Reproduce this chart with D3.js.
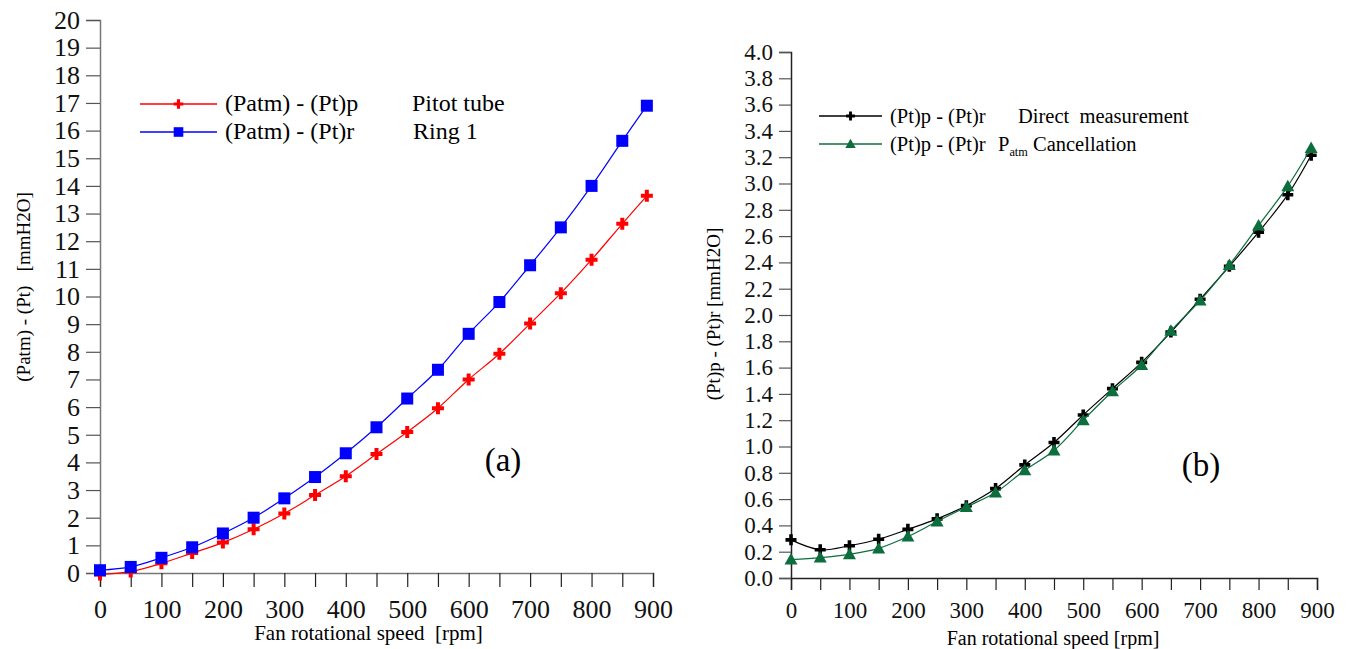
<!DOCTYPE html>
<html>
<head>
<meta charset="utf-8">
<script src="https://cdn.jsdelivr.net/npm/d3@7"></script>
<style>
  body { margin: 0; background: #fff; }
</style>
</head>
<body>
<svg id="chart" width="1351" height="649"></svg>
<script>
var serif = "'Liberation Serif', 'Times New Roman', Times, 'DejaVu Serif', serif";

// fan speed, rpm
var speeds = [0, 50, 100, 150, 200, 250, 300, 350, 400, 450, 500, 550, 600, 650, 700, 750, 800, 850, 890];

// (a) Patm - Pt, mmH2O
var pitot = [-0.05, 0.05, 0.35, 0.72, 1.1, 1.58, 2.15, 2.82, 3.5, 4.3, 5.1, 5.96, 7.0, 7.93, 9.02, 10.12, 11.33, 12.63, 13.64];
var ring1 = [0.1, 0.22, 0.55, 0.93, 1.43, 2.0, 2.7, 3.47, 4.33, 5.27, 6.31, 7.35, 8.65, 9.8, 11.13, 12.5, 14.0, 15.63, 16.9];

// (b) Pt,p - Pt,r, mmH2O
var direct = [0.29, 0.215, 0.245, 0.295, 0.37, 0.45, 0.55, 0.68, 0.86, 1.03, 1.24, 1.44, 1.64, 1.87, 2.12, 2.37, 2.63, 2.915, 3.215];
var cancel = [0.14, 0.155, 0.18, 0.225, 0.315, 0.43, 0.54, 0.65, 0.82, 0.97, 1.2, 1.42, 1.62, 1.88, 2.11, 2.38, 2.68, 2.98, 3.27];

var xTicks = [0, 100, 200, 300, 400, 500, 600, 700, 800, 900];
var xMinor = [0, 50, 100, 150, 200, 250, 300, 350, 400, 450, 500, 550, 600, 650, 700, 750, 800, 850, 900];
var yTicksA = d3.range(0, 21, 1);
var yTicksB = d3.range(0, 4.01, 0.2);

var svg = d3.select("#chart");

function plusPath(s, w) {
  return "M" + (-w) + "," + (-s) + "H" + w + "V" + (-w) + "H" + s + "V" + w + "H" + w + "V" + s +
         "H" + (-w) + "V" + w + "H" + (-s) + "V" + (-w) + "H" + (-w) + "Z";
}

function drawMarker(g, kind, color) {
  if (kind == "plus") {
    g.append("path").attr("d", plusPath(6, 2)).attr("fill", color);
  } else if (kind == "plusSmall") {
    g.append("path").attr("d", plusPath(5.5, 1.8)).attr("fill", color);
  } else if (kind == "square") {
    g.append("rect").attr("x", -6).attr("y", -6).attr("width", 12).attr("height", 12).attr("fill", color);
  } else {
    g.append("path").attr("d", "M0,-6.5L6.5,5L-6.5,5Z").attr("fill", color);
  }
}

function panel(opt) {
  var x = d3.scaleLinear().domain([0, 900]).range([opt.left, opt.right]);
  var y = d3.scaleLinear().domain(opt.yDomain).range([opt.bottom, opt.top]);
  var g = svg.append("g");

  // x axis with ticks every 50
  var xa = g.append("g")
    .attr("transform", "translate(0," + opt.bottom + ")")
    .call(d3.axisBottom(x).tickValues(xMinor).tickSize(opt.tick).tickPadding(6)
      .tickFormat(function(d) { return xTicks.indexOf(d) >= 0 ? d : ""; }));
  xa.attr("font-family", serif);
  xa.select(".domain").attr("stroke", opt.axisColor).attr("stroke-width", 1.5);
  xa.selectAll(".tick line").attr("stroke", "#222").attr("stroke-width", 1.2);
  xa.selectAll("text").style("font-family", serif).style("font-size", opt.tickFont + "px").attr("fill", "#111").attr("dy", "0.95em");

  var ya = g.append("g")
    .attr("transform", "translate(" + opt.left + ",0)")
    .call(d3.axisLeft(y).tickValues(opt.yTicks).tickSize(opt.tick).tickPadding(6).tickFormat(opt.yFormat));
  ya.attr("font-family", serif);
  ya.select(".domain").attr("stroke", opt.axisColor).attr("stroke-width", 1.5);
  ya.selectAll(".tick line").attr("stroke", "#555").attr("stroke-width", 1.2);
  ya.selectAll("text").style("font-family", serif).style("font-size", opt.tickFont + "px").attr("fill", "#111");

  g.append("text")
    .attr("x", (opt.left + opt.right) / 2 + opt.xTitleShift).attr("y", opt.bottom + 67)
    .attr("text-anchor", "middle").style("font-family", serif).style("font-size", opt.titleFont + "px")
    .style("white-space", "pre").text(opt.xTitle);

  g.append("text")
    .attr("transform", "translate(" + opt.yTitleX + "," + opt.yTitleY + ") rotate(-90)")
    .attr("text-anchor", "middle").style("font-family", serif).style("font-size", opt.yTitleFont + "px")
    .style("white-space", "pre").text(opt.yTitle);

  var line = d3.line()
    .x(function(d) { return x(d[0]); })
    .y(function(d) { return y(d[1]); })
    .curve(d3.curveCatmullRom);

  opt.series.forEach(function(s) {
    var pts = speeds.map(function(v, i) { return [v, s.values[i]]; });
    g.append("path").datum(pts)
      .attr("d", line).attr("fill", "none")
      .attr("stroke", s.color).attr("stroke-width", 1.2);
    pts.forEach(function(p) {
      var m = g.append("g").attr("transform", "translate(" + x(p[0]) + "," + y(p[1]) + ")");
      drawMarker(m, s.marker, s.color);
    });
  });

  // legend
  opt.series.forEach(function(s, i) {
    var ly = opt.legendY + i * opt.legendGap;
    g.append("line").attr("x1", opt.legendX).attr("x2", opt.legendX + opt.legendLen)
      .attr("y1", ly).attr("y2", ly).attr("stroke", s.color).attr("stroke-width", 1.3);
    var m = g.append("g").attr("transform", "translate(" + (opt.legendX + opt.legendLen / 2) + "," + ly + ") scale(0.8)");
    drawMarker(m, s.marker, s.color);
    g.append("text").attr("x", opt.legendX + opt.legendLen + 8).attr("y", ly + 7)
      .style("font-family", serif).style("font-size", opt.legendFont + "px").text(s.label);
    var t = g.append("text").attr("x", s.noteX).attr("y", ly + 7)
      .style("font-family", serif).style("font-size", opt.legendFont + "px").style("white-space", "pre");
    if (s.sub) {
      t.append("tspan").text("P");
      t.append("tspan").attr("dy", 5).style("font-size", (opt.legendFont * 0.6) + "px").text("atm");
      t.append("tspan").attr("dy", -5).text(" " + s.note);
    } else {
      t.text(s.note);
    }
  });

  g.append("text").attr("x", opt.tagX).attr("y", opt.tagY)
    .attr("text-anchor", "middle").style("font-family", serif).style("font-size", "33px").text(opt.tag);
}

panel({
  left: 100, right: 653, top: 20, bottom: 573,
  yDomain: [0, 20], yTicks: yTicksA, yFormat: d3.format("d"),
  tick: 14, tickFont: 26, titleFont: 21, yTitleFont: 19, axisColor: "#777",
  xTitle: "Fan rotational speed  [rpm]", xTitleShift: -8,
  yTitle: "(Patm) - (Pt)   [mmH2O]", yTitleX: 30, yTitleY: 287,
  legendX: 140, legendLen: 77, legendY: 104, legendGap: 28, legendFont: 24,
  tag: "(a)", tagX: 503, tagY: 471,
  series: [
    { values: pitot, color: "#ff0000", marker: "plus", label: "(Patm) - (Pt)p", note: "Pitot tube", noteX: 412 },
    { values: ring1, color: "#0000ff", marker: "square", label: "(Patm) - (Pt)r", note: "Ring 1", noteX: 413 }
  ]
});

panel({
  left: 791, right: 1317, top: 52, bottom: 578,
  yDomain: [0, 4], yTicks: yTicksB, yFormat: d3.format(".1f"),
  tick: 12, tickFont: 23, titleFont: 20, yTitleFont: 19, axisColor: "#222",
  xTitle: "Fan rotational speed [rpm]", xTitleShift: -1,
  yTitle: "(Pt)p - (Pt)r [mmH2O]", yTitleX: 720, yTitleY: 314,
  legendX: 819, legendLen: 63, legendY: 116, legendGap: 28, legendFont: 20.5,
  tag: "(b)", tagX: 1201, tagY: 476,
  series: [
    { values: direct, color: "#000000", marker: "plusSmall", label: "(Pt)p - (Pt)r", note: "Direct  measurement", noteX: 1018 },
    { values: cancel, color: "#0b6e3c", marker: "tri", label: "(Pt)p - (Pt)r", note: "Cancellation", noteX: 998, sub: true }
  ]
});
</script>
</body>
</html>
